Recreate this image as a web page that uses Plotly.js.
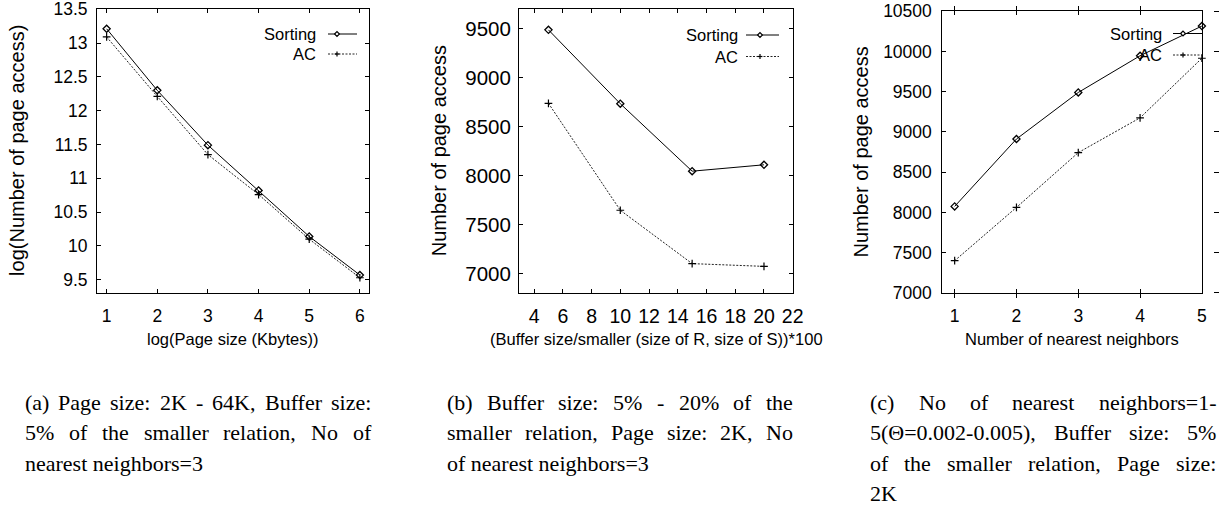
<!DOCTYPE html>
<html><head><meta charset="utf-8">
<script src="https://cdn.plot.ly/plotly-3.0.1.min.js"></script>
<style>html,body{margin:0;padding:0;background:#fff;overflow:hidden}</style>
</head><body>
<div id="chart" style="width:1228px;height:508px"></div>
<script>
// ---------- data ----------
// Panel (a)
const pageSizeLog = [1, 2, 3, 4, 5, 6];
const sortingA = [13.21, 12.30, 11.49, 10.82, 10.14, 9.57];
const acA = [13.09, 12.21, 11.35, 10.76, 10.10, 9.53];
// Panel (b)
const bufferPct = [5, 10, 15, 20];
const sortingB = [9490, 8736, 8047, 8112];
const acB = [8740, 7648, 7103, 7075];
// Panel (c)
const neighbors = [1, 2, 3, 4, 5];
const sortingC = [8075, 8912, 9490, 9946, 10315];
const acC = [7400, 8062, 8743, 9175, 9915];

const seriesNames = ['Sorting', 'AC'];

// tick values / labels
const yTicksA = [9.5, 10, 10.5, 11, 11.5, 12, 12.5, 13, 13.5];
const yTickTextA = ['9.5', '10', '10.5', '11', '11.5', '12', '12.5', '13', '13.5'];
const xTicksA = [1, 2, 3, 4, 5, 6];
const xTickTextA = ['1', '2', '3', '4', '5', '6'];
const yTicksB = [7000, 7500, 8000, 8500, 9000, 9500];
const yTickTextB = ['7000', '7500', '8000', '8500', '9000', '9500'];
const xTicksB = [4, 6, 8, 10, 12, 14, 16, 18, 20, 22];
const xTickTextB = ['4', '6', '8', '10', '12', '14', '16', '18', '20', '22'];
const yTicksC = [7000, 7500, 8000, 8500, 9000, 9500, 10000, 10500];
const yTickTextC = ['7000', '7500', '8000', '8500', '9000', '9500', '10000', '10500'];
const xTicksC = [1, 2, 3, 4, 5];
const xTickTextC = ['1', '2', '3', '4', '5'];

const xTitles = ['log(Page size (Kbytes))', '(Buffer size/smaller (size of R, size of S))*100', 'Number of nearest neighbors'];
const yTitles = ['log(Number of page access)', 'Number of page access', 'Number of page access'];

const captions = [
  ['(a) Page size: 2K - 64K, Buffer size:', '5% of the smaller relation, No of', 'nearest neighbors=3'],
  ['(b) Buffer size: 5% - 20% of the', 'smaller relation, Page size: 2K, No', 'of nearest neighbors=3'],
  ['(c) No of nearest neighbors=1-', '5(\u0398=0.002-0.005), Buffer size: 5%', 'of the smaller relation, Page size:', '2K']
];

// ---------- layout helpers ----------
const W = 1228, H = 508;
const px = v => v / W;
const py = v => 1 - v / H;
const SANS = 'Liberation Sans, Arial, sans-serif';
const SERIF = 'Liberation Serif, Times New Roman, serif';
const INK = '#000';

const sortStyle = {
  line: {color: INK, width: 1},
  marker: {symbol: 'diamond-open', size: 5.5, color: INK, line: {color: INK, width: 1.3}}
};
const acStyle = {
  line: {color: '#222', width: 1, dash: '2px,1.5px'},
  marker: {symbol: 'cross-thin-open', size: 5.5, color: INK, line: {color: INK, width: 1.2}}
};

function mk(x, y, style, xa, ya, name) {
  return Object.assign({
    x: x, y: y, xaxis: xa, yaxis: ya, name: name, type: 'scatter', mode: 'lines+markers',
    cliponaxis: false, showlegend: false, hoverinfo: 'skip'
  }, JSON.parse(JSON.stringify(style)));
}

const data = [
  mk(pageSizeLog, sortingA, sortStyle, 'x', 'y', seriesNames[0]),
  mk(pageSizeLog, acA, acStyle, 'x', 'y', seriesNames[1]),
  mk(bufferPct, sortingB, sortStyle, 'x2', 'y2', seriesNames[0]),
  mk(bufferPct, acB, acStyle, 'x2', 'y2', seriesNames[1]),
  mk(neighbors, sortingC, sortStyle, 'x3', 'y3', seriesNames[0]),
  mk(neighbors, acC, acStyle, 'x3', 'y3', seriesNames[1]),
  {x: [], y: [], xaxis: 'x3', yaxis: 'y4', type: 'scatter', mode: 'lines', showlegend: false, hoverinfo: 'skip'}
];

function axis(domain, range, tickvals, ticktext, anchor, mirror, standoff, fsize) {
  return {
    domain: domain, range: range, tickmode: 'array', tickvals: tickvals, ticktext: ticktext,
    ticks: 'inside', ticklen: 4, tickwidth: 1, tickcolor: INK,
    showline: true, linecolor: INK, linewidth: 1, mirror: mirror,
    showgrid: false, zeroline: false, tickfont: {family: SANS, size: fsize, color: INK}, anchor: anchor,
    fixedrange: true, automargin: false, ticklabelstandoff: standoff, ticklabeloverflow: 'allow'
  };
}

const dom = {
  a: {x: [px(97), px(369)], y: [py(293.3), py(8.5)]},
  b: {x: [px(519), px(793)], y: [py(293.3), py(9.3)]},
  c: {x: [px(942.3), px(1202)], y: [py(293), py(11)]}
};

const layout = {
  width: W, height: H,
  margin: {l: 0, r: 0, t: 0, b: 0, pad: 0},
  paper_bgcolor: '#fff', plot_bgcolor: '#fff',
  showlegend: false,
  font: {family: SANS, color: INK},
  xaxis: axis(dom.a.x, [0.81, 6.18], xTicksA, xTickTextA, 'y', 'allticks', 7, 17.5),
  yaxis: axis(dom.a.y, [9.3, 13.51], yTicksA, yTickTextA, 'x', 'allticks', 5, 17.5),
  xaxis2: axis(dom.b.x, [2.95, 22.02], xTicksB, xTickTextB, 'y2', 'allticks', 5, 19.5),
  yaxis2: axis(dom.b.y, [6800, 9700], yTicksB, yTickTextB, 'x2', 'allticks', 3, 20.5),
  xaxis3: axis(dom.c.x, [0.8, 5.002], xTicksC, xTickTextC, 'y3', 'allticks', 7, 17.5),
  yaxis3: axis(dom.c.y, [6999, 10502], yTicksC, yTickTextC, 'x3', true, 6, 17.5),
  yaxis4: {
    overlaying: 'y3', anchor: 'free', position: px(1213), side: 'right',
    range: [6999, 10502], tickmode: 'array', tickvals: yTicksC,
    ticks: 'outside', ticklen: 5, tickwidth: 1, tickcolor: INK,
    showticklabels: false, showline: false, showgrid: false, zeroline: false, fixedrange: true
  },
  annotations: [],
  shapes: []
};

// axis titles
const xRefs = ['x domain', 'x2 domain', 'x3 domain'];
const yRefs = ['y domain', 'y2 domain', 'y3 domain'];
const yTitleX = [17, 439, 860.5];
for (let i = 0; i < 3; i++) {
  layout.annotations.push({
    xref: xRefs[i], yref: 'paper', x: 0.5, y: py(338.5), text: xTitles[i],
    showarrow: false, xanchor: 'center', yanchor: 'middle', borderpad: 0, borderwidth: 0,
    font: {family: SANS, size: 16.5, color: INK}
  });
  layout.annotations.push({
    xref: 'paper', yref: yRefs[i], x: px(yTitleX[i]), y: 0.5, text: yTitles[i],
    showarrow: false, xanchor: 'center', yanchor: 'middle', textangle: -90,
    font: {family: SANS, size: 20, color: INK}
  });
}

// legends (gnuplot style: label, then sample line with point)
const legends = [
  {textRight: 316, rows: [34, 54], x0: 328, x1: 357, mx: 337},
  {textRight: 738, rows: [35, 56.5], x0: 746, x1: 779, mx: 760},
  {textRight: 1162, rows: [33.5, 55], x0: 1173, x1: 1202, mx: 1183}
];
function diamondPath(cx, cy, r) {
  return 'M' + px(cx - r) + ',' + py(cy) + ' L' + px(cx) + ',' + py(cy - r) +
         ' L' + px(cx + r) + ',' + py(cy) + ' L' + px(cx) + ',' + py(cy + r) + ' Z';
}
legends.forEach(lg => {
  seriesNames.forEach((nm, k) => {
    const yy = lg.rows[k];
    layout.annotations.push({
      xref: 'paper', yref: 'paper', x: px(lg.textRight), y: py(yy), text: nm,
      showarrow: false, xanchor: 'right', yanchor: 'middle', borderpad: 0, borderwidth: 0,
      font: {family: SANS, size: 16.5, color: INK}
    });
    const st = k === 0 ? sortStyle : acStyle;
    layout.shapes.push({
      type: 'line', xref: 'paper', yref: 'paper', x0: px(lg.x0), x1: px(lg.x1), y0: py(yy), y1: py(yy),
      line: {color: st.line.color, width: 1, dash: st.line.dash || 'solid'}
    });
    if (k === 0) {
      layout.shapes.push({
        type: 'path', xref: 'paper', yref: 'paper', path: diamondPath(lg.mx, yy, 2.4),
        line: {color: INK, width: 1.2}, fillcolor: '#fff'
      });
    } else {
      layout.shapes.push({type: 'line', xref: 'paper', yref: 'paper', x0: px(lg.mx - 2.4), x1: px(lg.mx + 2.4), y0: py(yy), y1: py(yy), line: {color: INK, width: 1.2}});
      layout.shapes.push({type: 'line', xref: 'paper', yref: 'paper', x0: px(lg.mx), x1: px(lg.mx), y0: py(yy - 2.4), y1: py(yy + 2.4), line: {color: INK, width: 1.2}});
    }
  });
});

// captions: justified lines (except the last line of each paragraph)
const capFontSize = 22;
const capLeft = [25, 447, 870];
const capWidth = 346;
const capLineY = [402, 432.5, 463, 493];
const ctx = document.createElement('canvas').getContext('2d');
ctx.font = capFontSize + "px 'Liberation Serif'";
const capFont = {family: SERIF, size: capFontSize, color: INK};
captions.forEach((lines, ci) => {
  lines.forEach((line, li) => {
    const yv = py(capLineY[li]);
    const last = li === lines.length - 1;
    if (last) {
      layout.annotations.push({
        xref: 'paper', yref: 'paper', x: px(capLeft[ci]), y: yv, text: line,
        showarrow: false, xanchor: 'left', yanchor: 'middle', borderpad: 0, borderwidth: 0, font: capFont
      });
      return;
    }
    const words = line.split(' ');
    const widths = words.map(w => ctx.measureText(w).width);
    const total = widths.reduce((s, v) => s + v, 0);
    const gap = (capWidth - total) / (words.length - 1);
    let xcur = capLeft[ci];
    words.forEach((w, wi) => {
      layout.annotations.push({
        xref: 'paper', yref: 'paper', x: px(xcur), y: yv, text: w,
        showarrow: false, xanchor: 'left', yanchor: 'middle', borderpad: 0, borderwidth: 0, font: capFont
      });
      xcur += widths[wi] + gap;
    });
  });
});

Plotly.newPlot('chart', data, layout, {staticPlot: true, displayModeBar: false});
</script>
</body></html>
